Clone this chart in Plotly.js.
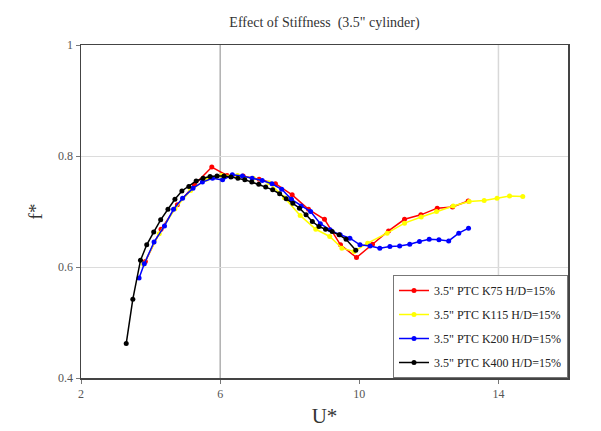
<!DOCTYPE html>
<html>
<head>
<meta charset="utf-8">
<script src="https://cdn.plot.ly/plotly-3.0.1.min.js"></script>
<style>html,body{margin:0;padding:0;background:#fff;}#chart{width:601px;height:431px;}</style>
</head>
<body>
<div id="chart"></div>
<script>
const seriesNames = ['3.5" PTC K75 H/D=15%', '3.5" PTC K115 H/D=15%', '3.5" PTC K200 H/D=15%', '3.5" PTC K400 H/D=15%'];

const k75X = [3.85,4.30,4.77,5.26,5.76,6.20,6.66,7.12,7.59,8.07,8.54,9.00,9.46,9.92,10.38,10.84,11.30,11.77,12.24,12.68,13.13];
const k75Y = [0.610,0.668,0.712,0.748,0.780,0.765,0.764,0.758,0.750,0.730,0.704,0.686,0.640,0.617,0.641,0.665,0.686,0.694,0.706,0.708,0.719];

const k115X = [3.80,4.25,4.70,5.15,5.60,6.05,6.50,6.95,7.40,7.85,8.30,8.75,9.15,9.50,9.85,10.24,10.80,11.30,11.78,12.22,12.70,13.16,13.59,13.96,14.32,14.70];
const k115Y = [0.605,0.660,0.705,0.738,0.758,0.765,0.765,0.760,0.752,0.725,0.693,0.668,0.655,0.634,0.628,0.643,0.661,0.679,0.690,0.700,0.710,0.718,0.720,0.724,0.728,0.727];

const k200X = [3.67,3.82,4.10,4.40,4.66,4.92,5.22,5.49,5.78,6.07,6.35,6.64,6.92,7.21,7.49,7.77,8.05,8.33,8.60,8.88,9.16,9.45,9.73,10.02,10.31,10.59,10.88,11.16,11.45,11.73,12.01,12.29,12.57,12.86,13.14];
const k200Y = [0.580,0.606,0.645,0.674,0.704,0.724,0.742,0.753,0.760,0.757,0.766,0.764,0.760,0.756,0.750,0.740,0.722,0.710,0.700,0.678,0.667,0.658,0.652,0.640,0.638,0.634,0.637,0.638,0.641,0.646,0.650,0.649,0.647,0.661,0.670];

const k400X = [3.30,3.49,3.71,3.89,4.09,4.29,4.50,4.70,4.90,5.10,5.31,5.51,5.71,5.91,6.11,6.31,6.51,6.71,6.91,7.11,7.31,7.51,7.71,7.90,8.09,8.28,8.47,8.65,8.84,9.03,9.22,9.42,9.62,9.90];
const k400Y = [0.462,0.542,0.612,0.640,0.663,0.685,0.704,0.722,0.737,0.745,0.755,0.760,0.763,0.764,0.764,0.762,0.760,0.757,0.753,0.749,0.744,0.739,0.732,0.723,0.715,0.706,0.694,0.682,0.673,0.668,0.664,0.658,0.650,0.630];

const xTicks = [2, 6, 10, 14];
const yTicks = [0.4, 0.6, 0.8, 1];
const yTickText = ['0.4', '0.6', '0.8', '1'];

const colors = ['#ff0000', '#ffff00', '#0000ff', '#000000'];
const xs = [k75X, k115X, k200X, k400X];
const ys = [k75Y, k115Y, k200Y, k400Y];

const traces = seriesNames.map((n, i) => ({
  x: xs[i], y: ys[i], name: n, type: 'scatter', mode: 'lines+markers',
  legendgroup: 'g' + i,
  line: {color: colors[i], width: 1.5},
  marker: {color: colors[i], size: 5, symbol: 'circle'}
}));

const font = 'Liberation Serif, Times New Roman, serif';

const layout = {
  width: 601, height: 431,
  margin: {l: 81, r: 33, t: 45, b: 53},
  paper_bgcolor: '#ffffff', plot_bgcolor: '#ffffff',
  font: {family: font, color: '#333'},
  title: {text: 'Effect of Stiffness  (3.5" cylinder)', font: {family: font, size: 14, color: '#333'}, x: 0.5, xanchor: 'center', y: 0.948, yanchor: 'middle', xref: 'paper'},
  showlegend: true,
  legend: {
    x: 1, xanchor: 'right', y: 0, yanchor: 'bottom',
    bordercolor: '#777', borderwidth: 1, bgcolor: '#ffffff',
    font: {family: font, size: 12, color: '#222'},
    traceorder: 'grouped', tracegroupgap: 5, itemwidth: 30
  },
  xaxis: {
    range: [2, 16], tickvals: xTicks, ticktext: xTicks.map(String),
    showgrid: false, zeroline: false,
    showline: true, linecolor: '#444', linewidth: 1.5, mirror: true,
    ticks: 'outside', ticklen: 4, tickcolor: '#777',
    tickfont: {family: font, size: 12, color: '#555'},
    title: {text: 'U*', font: {family: font, size: 21, color: '#333'}, standoff: 8}
  },
  yaxis: {
    range: [0.4, 1], tickvals: yTicks, ticktext: yTickText,
    showgrid: true, gridcolor: '#dcdcdc', gridwidth: 1, zeroline: false,
    showline: true, linecolor: '#444', linewidth: 1.5, mirror: true,
    ticks: 'outside', ticklen: 4, tickcolor: '#777',
    tickfont: {family: font, size: 12, color: '#555'},
    title: {text: 'f*', font: {family: font, size: 19, color: '#333'}, standoff: 10}
  },
  shapes: [
    {type: 'line', xref: 'x', yref: 'paper', x0: 6, x1: 6, y0: 0, y1: 1, line: {color: '#888', width: 1}, layer: 'below'},
    {type: 'line', xref: 'x', yref: 'paper', x0: 14, x1: 14, y0: 0, y1: 1, line: {color: '#d8d8d8', width: 1.5}, layer: 'below'}
  ]
};

Plotly.newPlot('chart', traces, layout, {displayModeBar: false, staticPlot: true});
</script>
</body>
</html>
